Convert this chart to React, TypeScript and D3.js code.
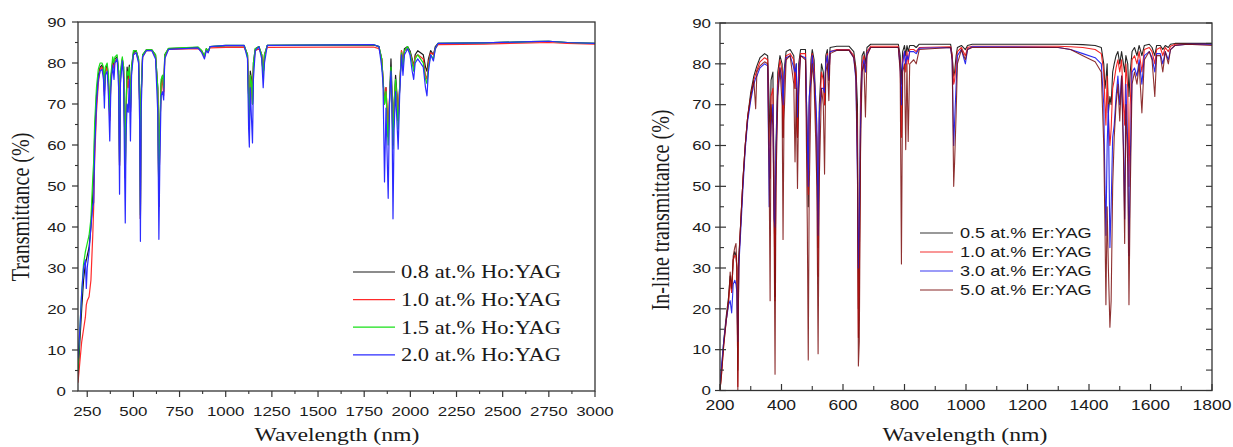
import React from "react";
import * as d3 from "d3";

// ---------- Left panel: Ho:YAG ----------
const LEFT_NM = [200,210,220,230,240,245,250,260,270,280,285,290,300,310,320,330,338,343,348,358,365,372,378,388,395,400,412,420,425,430,440,447,452,456,460,466,472,478,484,490,500,515,528,534,538,542,550,570,600,620,632,638,643,650,658,664,670,690,850,870,885,895,905,915,1000,1100,1118,1124,1128,1133,1140,1145,1150,1160,1180,1195,1203,1210,1225,1800,1830,1845,1852,1860,1868,1880,1888,1895,1900,1906,1912,1920,1928,1934,1942,1952,1960,1968,1985,1998,2010,2018,2026,2040,2055,2070,2082,2090,2098,2110,2125,2135,2150,2400,2650,2750,2850,3000];
const HO_08 = [3,12,20,27,31,32,33,35,40,48,52,62,72,77,79,79.5,78,73,78,79.5,76,67,76,80.5,79,81,81.5,78,55,77,81,79,65,52,68,79,76,79.5,68,79,82.5,83,81,70,42,72,82,83.2,83.2,82,74,45,62,75,77,73,82,83.5,83.8,83,81.5,83.5,82.8,84,84.2,84.2,82,72,66,78,76,70,80,83.5,84,82,77,82,84.3,84.4,84,81,76,70,74,62,72,81,74,60,70,77,72,66,74,83,80,83.5,84,83,81,79,82,83,82.5,82,79,78,81,83,82,84,84.8,84.9,85.2,85.3,85,84.8];
const HO_10 = [2,7,12,15,18,21,22,23,27,38,45,56,68,75,78.5,79,77.5,72,77.5,79,75,66,75.5,80,78.5,80.5,81,77,55,76,80.5,78,65,52,67,76,74,78,68,78,82,82.5,80.5,70,42,72,81.5,83,83,81.5,73,45,62,74,76,72,81.5,83.3,83.5,82.8,81.5,83.3,82.6,83.7,83.8,83.8,82,72,66,77,75,70,79,83,83.5,82,77,82,83.8,83.9,83.5,81,76,70,74,63,72,77,72,60,70,75,72,66,74,83,80,83,83.5,82.5,80.5,79,81.5,82,81.5,81,77,76,80,82.5,82,83.5,84.5,84.6,84.9,85,84.8,84.6];
const HO_15 = [5,15,24,31,34,35,36,38,42,52,56,65,74,78.5,80,80,79,74,79,80,77,68,77,81.5,80,81.5,82,78,56,78,81.5,79,66,53,69,78,77,79,69,79,83,83,81,72,43,73,82,83.2,83.2,82,74,46,64,76,77,74,82,83.6,83.9,83,81.8,83.5,82.8,84,84.3,84.3,82,71,65,77,75,70,80,83.5,84,82,77,82,84.3,84.5,84,81,76,70,73,60,72,79,72,59,70,76,70,64,74,82.5,79,83,84,82.5,80,78,81,82,81,80,76,75,79,82,81,83.5,84.8,84.9,85.2,85.3,85,84.8];
const HO_20 = [8,15,24,30,32,25,30,34,40,45,46,58,70,76,78,78.5,76,69,77,78,72,61,74,79.5,76,80,81,74,48,75,80.5,76,55,41,62,70,68,76,61,77,82,82.5,80,65,36.5,68,81.5,83,83,81,68,37,55,72,73,71,81,83.3,83.7,82.5,81,83,82.5,84,84.3,84.3,81,64,59.5,74,66,60.5,76,83,84,81,74,80,84.3,84.5,84,79,75,51,69,47,72,78,70,42,64,73,65,59,72,82,77,82,83.5,82,78,76,80,81,80,79,74,72,78,82,80.5,83.5,84.8,84.9,85.2,85.3,85,84.8];
const LEFT_LABELS = ["0.8 at.% Ho:YAG", "1.0 at.% Ho:YAG", "1.5 at.% Ho:YAG", "2.0 at.% Ho:YAG"];
const LEFT_COLORS = ["#1a1a1a", "#ff2a2a", "#18e018", "#2b2bff"];
const LEFT_XTICKS = [250,500,750,1000,1250,1500,1750,2000,2250,2500,2750,3000];
const Y_TICKS = [0,10,20,30,40,50,60,70,80,90];

// ---------- Right panel: Er:YAG ----------
const RIGHT_NM = [200,205,212,220,228,233,238,243,248,252,255,258,261,268,275,282,290,300,310,316,320,330,345,355,360,363,366,372,376,379,382,388,395,402,405,408,415,428,440,444,448,452,456,462,478,484,487,490,496,500,506,511,515,519,523,530,536,540,544,549,554,558,580,620,635,642,647,650,653,657,662,668,673,678,690,780,786,790,794,800,804,808,812,817,830,838,848,950,955,960,963,968,972,985,998,1005,1020,1300,1340,1380,1420,1440,1448,1452,1455,1459,1463,1468,1472,1477,1482,1488,1494,1500,1506,1512,1516,1520,1526,1530,1534,1540,1548,1556,1563,1572,1580,1596,1605,1614,1620,1632,1640,1648,1658,1665,1680,1720,1800];
const ER_05 = [0,5,12,18,23,28,24,32,34,33,30,5,32,42,52,60,67,73,77,78.5,79.5,81.5,82.5,82,70,60,76,78,50,23,60,78,82,80,62,78,83,83.5,82,74,80,62,80,83.5,83.5,60,45,70,81,83.5,81,70,60,35,70,80,78,70,82,83.5,78,84,84.3,84.3,83,79,70,20,30,72,82,83,80,84,84.8,84.8,82,75,83,84.5,82,84.5,83,84.5,84.5,84,84.8,84.8,82,77,78,82,84,84.5,83.5,84.5,84.8,84.8,84.8,84.7,84.5,84,80,74,76,80,68,72,70,78,80,82,83,80,83,80,78,82,80,72,78,83,84,82,84.5,82,84.5,84.8,84,82,84.5,84.5,83.5,84.5,84,84.8,85,85,85];
const ER_10 = [0,4,11,17,22,27,24,32,33,33,30,1,31,42,52,60,67,72,76,77.5,78.5,80.5,81.5,81,60,52,72,74,45,22,55,76,81,78,62,75,82,82.5,81,74,79,62,78,82.5,82.5,55,48,68,79,82.5,79,68,62,28,66,78,76,70,80,82.5,76,83,83.5,83.5,82,78,60,13,25,70,80,82,78,83,84.3,84.3,80,62,81,83,78,83,80,83.5,83.5,83,84,84.2,82,75,76,80,83,84,82,84,84.3,84.3,84.2,84,83.5,82.5,78,70,65,77,67,60,64,74,76,79,81,78,81,70,65,80,74,50,70,81,82,80,83,78,83.5,84,83,80,83.5,84,82,84,83,84.3,84.8,84.8,84.8];
const ER_30 = [2,6,12,17,21,22,19,26,27,26,24,12,30,40,50,59,66,71,75,76.5,77,79,80,79.5,45,60,65,70,42,40,58,74,79,76,70,77,81.5,82,79,78,80,67,76,82,81.5,62,50,72,76,82,77,72,65,38,68,74,74,73,80,82,76,83,83.3,83.3,81.5,76,52,30,40,65,78,81,78,82.5,84,84,79,70,80,83,80,82,81,83,83,82.5,83.8,84,81,60,66,75,82,83.5,80,83.5,84.2,84,83.5,82.5,81.5,80,70,50,38,60,70,35,45,62,65,72,77,70,77,60,42,75,60,33,55,78,79,77,81,75,82,83,81.5,78,82.5,82.5,80,83,81,83.5,84.5,84.8,84.8];
const ER_50 = [0,4,11,17,22,29,25,33,35,36,30,0,32,42,52,60,67,72,76,69,78,79.5,80.5,80,52,22,70,65,40,4,50,72,79,70,37,66,81,82,75,56,74,49.5,72,82,81,40,7.5,48,74,80,75,62,50,9,52,74,70,53,78,80,71,82.5,83.3,83.3,81.5,77,55,6,12,58,78,80,67,82,84,84,78,31,78,80,59,80,61,80,81,80,83.5,84,81,50,56,68,80,83.5,81,83.5,84,84,83.5,82,80.5,78,60,40,21,45,30,15.5,22,50,62,70,75,66,77,58,36,70,55,21,48,75,78,75,80,68,81,83,81,72,82,82,78,83,80,83.5,84.5,84.8,84.5];
const RIGHT_LABELS = ["0.5 at.% Er:YAG", "1.0 at.% Er:YAG", "3.0 at.% Er:YAG", "5.0 at.% Er:YAG"];
const RIGHT_COLORS = ["#1a1a1a", "#f01818", "#2020ee", "#7a0c0c"];
const RIGHT_XTICKS = [200,400,600,800,1000,1200,1400,1600,1800];

const SANS = "'Liberation Sans', Arial, sans-serif";
const SERIF = "'Liberation Serif', 'Times New Roman', serif";
const SX = 1.25;

function SText(props: any) {
  const { x, y, size, family, anchor = "start", rotate = false, children, fill = "#1a1a1a", dy = "0.35em" } = props;
  return (
    <text
      transform={`translate(${x},${y}) scale(${SX},1)${rotate ? " rotate(-90)" : ""}`}
      fontSize={size}
      fontFamily={family}
      textAnchor={anchor}
      dy={dy}
      fill={fill}
    >
      {children}
    </text>
  );
}

function LeftPanel() {
  const x = d3.scaleLinear().domain([200, 3000]).range([78, 595]);
  const y = d3.scaleLinear().domain([0, 90]).range([391, 22]);
  const series = [HO_08, HO_10, HO_15, HO_20];
  const line = d3.line<number>().x((_, i) => x(LEFT_NM[i])).y((v) => y(v));
  const minorX = d3.range(250, 3001, 125).filter((v) => v % 250 !== 0);
  const minorY = d3.range(5, 90, 10);
  return (
    <g>
      <defs>
        <clipPath id="clipL"><rect x={78} y={22} width={517} height={369} /></clipPath>
      </defs>
      <g clipPath="url(#clipL)">
        {series.map((s, k) => (
          <path key={k} d={line(s) || ""} fill="none" stroke={LEFT_COLORS[k]} strokeWidth={1.2} strokeLinejoin="round" />
        ))}
      </g>
      <rect x={78} y={22} width={517} height={369} fill="none" stroke="#333" strokeWidth={1.3} />
      {Y_TICKS.map((t) => (
        <g key={t}>
          <line x1={72} x2={78} y1={y(t)} y2={y(t)} stroke="#333" strokeWidth={1.2} />
          <SText x={66} y={y(t)} size={13.5} family={SANS} anchor="end">{t}</SText>
        </g>
      ))}
      {minorY.map((t) => (
        <line key={t} x1={75} x2={78} y1={y(t)} y2={y(t)} stroke="#333" strokeWidth={1.1} />
      ))}
      {LEFT_XTICKS.map((t) => (
        <g key={t}>
          <line x1={x(t)} x2={x(t)} y1={391} y2={397} stroke="#333" strokeWidth={1.2} />
          <SText x={x(t)} y={411} size={13.5} family={SANS} anchor="middle">{t}</SText>
        </g>
      ))}
      {minorX.map((t) => (
        <line key={t} x1={x(t)} x2={x(t)} y1={391} y2={394} stroke="#333" strokeWidth={1.1} />
      ))}
      <SText x={337} y={441} size={19} family={SERIF} anchor="middle" dy="0">Wavelength (nm)</SText>
      <SText x={20} y={207} size={20} family={SERIF} anchor="middle" rotate dy="0.35em">Transmittance (%)</SText>
      {LEFT_LABELS.map((lab, k) => (
        <g key={lab}>
          <line x1={353} x2={395} y1={272 + k * 27.6} y2={272 + k * 27.6} stroke={LEFT_COLORS[k]} strokeWidth={1.2} />
          <SText x={401} y={272 + k * 27.6} size={18} family={SERIF}>{lab}</SText>
        </g>
      ))}
    </g>
  );
}

function RightPanel() {
  const x = d3.scaleLinear().domain([200, 1800]).range([720, 1212]);
  const y = d3.scaleLinear().domain([0, 90]).range([390.5, 23]);
  const series = [ER_05, ER_10, ER_30, ER_50];
  const line = d3.line<number>().x((_, i) => x(RIGHT_NM[i])).y((v) => y(v));
  const minorX = d3.range(300, 1800, 200);
  const minorY = d3.range(5, 90, 10);
  return (
    <g>
      <defs>
        <clipPath id="clipR"><rect x={720} y={23} width={492} height={367.5} /></clipPath>
      </defs>
      <g clipPath="url(#clipR)">
        {series.map((s, k) => (
          <path key={k} d={line(s) || ""} fill="none" stroke={RIGHT_COLORS[k]} strokeWidth={1.1} strokeOpacity={k === 3 ? 0.85 : 0.95} strokeLinejoin="round" />
        ))}
      </g>
      <rect x={720} y={23} width={492} height={367.5} fill="none" stroke="#333" strokeWidth={1.3} />
      {Y_TICKS.map((t) => (
        <g key={t}>
          <line x1={715} x2={726} y1={y(t)} y2={y(t)} stroke="#333" strokeWidth={1.2} />
          <line x1={1206} x2={1212} y1={y(t)} y2={y(t)} stroke="#333" strokeWidth={1.1} />
          <SText x={711} y={y(t)} size={13.5} family={SANS} anchor="end">{t}</SText>
        </g>
      ))}
      {minorY.map((t) => (
        <g key={t}>
          <line x1={720} x2={724} y1={y(t)} y2={y(t)} stroke="#333" strokeWidth={1.1} />
          <line x1={1206} x2={1212} y1={y(t)} y2={y(t)} stroke="#333" strokeWidth={1.1} />
        </g>
      ))}
      {RIGHT_XTICKS.map((t) => (
        <g key={t}>
          <line x1={x(t)} x2={x(t)} y1={384} y2={390.5} stroke="#333" strokeWidth={1.2} />
          <SText x={x(t)} y={405} size={14} family={SANS} anchor="middle">{t}</SText>
        </g>
      ))}
      {minorX.map((t) => (
        <line key={t} x1={x(t)} x2={x(t)} y1={386} y2={390.5} stroke="#333" strokeWidth={1.1} />
      ))}
      <SText x={965} y={441} size={19} family={SERIF} anchor="middle" dy="0">Wavelength (nm)</SText>
      <SText x={660} y={210} size={20} family={SERIF} anchor="middle" rotate dy="0.35em">In-line transmittance (%)</SText>
      {RIGHT_LABELS.map((lab, k) => (
        <g key={lab}>
          <line x1={920} x2={953} y1={233 + k * 19} y2={233 + k * 19} stroke={RIGHT_COLORS[k]} strokeOpacity={0.6} strokeWidth={1.6} />
          <SText x={960} y={233 + k * 19} size={14.5} family={SANS}>{lab}</SText>
        </g>
      ))}
    </g>
  );
}

export default function App() {
  return (
    <div style={{ position: "absolute", left: 0, top: 0 }}>
      <svg width={1233} height={447} viewBox="0 0 1233 447" style={{ display: "block", background: "#fff" }}>
        <rect width={1233} height={447} fill="#fff" />
        <LeftPanel />
        <RightPanel />
      </svg>
    </div>
  );
}
